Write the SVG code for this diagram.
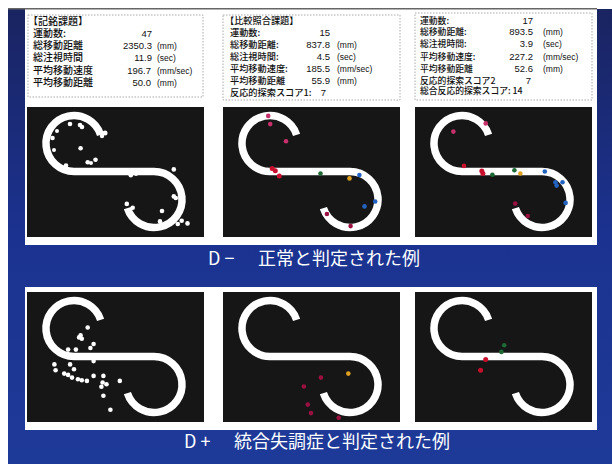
<svg xmlns="http://www.w3.org/2000/svg" width="612" height="464" viewBox="0 0 612 464">
<style>
.lbl{font-family:"Noto Sans CJK JP","Noto Sans",sans-serif;fill:#111;font-weight:500;}
.b1{font-size:10px;}
.b2{font-size:9.2px;}
.b3{font-size:8.8px;}
.num{font-family:"Liberation Sans",Arial,sans-serif;font-size:9.5px;fill:#111;text-anchor:end;}
.unit{font-family:"Liberation Sans",Arial,sans-serif;font-size:8.5px;fill:#111;}
.box{fill:none;stroke:#aaa;stroke-width:1;stroke-dasharray:1.5 1.5;}
.panel{fill:#151615;}
.frame{fill:#fff;}
.s{fill:none;stroke:#fff;stroke-width:7.5;}
.cap{font-family:"Noto Sans CJK JP","Noto Sans",sans-serif;font-size:18px;fill:#fff;}
.w{fill:#fff;}
.pk{fill:#c8306c;}
.rd{fill:#c8102e;}
.gn{fill:#1d6a34;}
.or{fill:#e0a020;}
.bl{fill:#2462c0;}
.mr{fill:#9a1040;}
</style>
<defs>
<linearGradient id="bg" x1="0" y1="0" x2="0" y2="1">
<stop offset="0" stop-color="#1a2461"/>
<stop offset="0.5" stop-color="#1b3290"/>
<stop offset="1" stop-color="#1e3a98"/>
</linearGradient>
<path id="S" class="s" d="M73.6,27.8 A28,28 0 1 0 47,64.5 H127 A28,28 0 1 1 100.4,101.2"/>
</defs>

<g id="background">
<rect x="0" y="0" width="612" height="464" fill="#fff"/>
<rect x="8" y="9" width="604" height="455" fill="url(#bg)"/>
<rect class="frame" x="25" y="9" width="572" height="236"/>
<rect x="8" y="8" width="589" height="1.5" fill="#666"/>
<rect class="frame" x="25" y="287" width="572" height="143"/>
</g>

<g id="box1">
<rect class="box" x="28" y="15" width="175" height="82"/>
<text class="lbl b1" x="28" y="25">【記銘課題】</text>
<text class="lbl b1" x="33" y="37">運動数:</text><text class="num" x="152" y="37">47</text>
<text class="lbl b1" x="33" y="49">総移動距離</text><text class="num" x="152" y="49">2350.3</text><text class="unit" x="157" y="49">(mm)</text>
<text class="lbl b1" x="33" y="61">総注視時間</text><text class="num" x="152" y="61">11.9</text><text class="unit" x="157" y="61">(sec)</text>
<text class="lbl b1" x="33" y="73.5">平均移動速度</text><text class="num" x="151" y="73.5">196.7</text><text class="unit" x="157" y="73.5">(mm/sec)</text>
<text class="lbl b1" x="33" y="85.5">平均移動距離</text><text class="num" x="151" y="85.5">50.0</text><text class="unit" x="157" y="85.5">(mm)</text>
</g>

<g id="box2">
<rect class="box" x="223" y="15" width="177" height="85"/>
<text class="lbl b2" x="225" y="24">【比較照合課題】</text>
<text class="lbl b2" x="230" y="35.5">運動数:</text><text class="num" x="330" y="35.5">15</text>
<text class="lbl b2" x="230" y="47.5">総移動距離:</text><text class="num" x="330" y="47.5">837.8</text><text class="unit" x="337" y="47.5">(mm)</text>
<text class="lbl b2" x="230" y="59.5">総注視時間:</text><text class="num" x="330" y="59.5">4.5</text><text class="unit" x="337" y="59.5">(sec)</text>
<text class="lbl b2" x="230" y="71.5">平均移動速度:</text><text class="num" x="330" y="71.5">185.5</text><text class="unit" x="337" y="71.5">(mm/sec)</text>
<text class="lbl b2" x="230" y="83.5">平均移動距離</text><text class="num" x="330" y="83.5">55.9</text><text class="unit" x="337" y="83.5">(mm)</text>
<text class="lbl b2" x="230" y="95.5">反応的探索スコア1:</text><text class="num" x="326" y="95.5">7</text>
</g>

<g id="box3">
<rect class="box" x="415" y="13" width="177" height="87"/>
<text class="lbl b3" x="420" y="23.5">運動数:</text><text class="num" x="533" y="23.5">17</text>
<text class="lbl b3" x="420" y="35">総移動距離:</text><text class="num" x="533" y="35">893.5</text><text class="unit" x="543" y="35">(mm)</text>
<text class="lbl b3" x="420" y="47">総注視時間:</text><text class="num" x="533" y="47">3.9</text><text class="unit" x="543" y="47">(sec)</text>
<text class="lbl b3" x="420" y="59.5">平均移動速度:</text><text class="num" x="533" y="59.5">227.2</text><text class="unit" x="543" y="59.5">(mm/sec)</text>
<text class="lbl b3" x="420" y="72">平均移動距離</text><text class="num" x="533" y="72">52.6</text><text class="unit" x="543" y="72">(mm)</text>
<text class="lbl b3" x="420" y="83.5">反応的探索スコア2</text><text class="num" x="531" y="83.5">7</text>
<text class="lbl b3" x="420" y="94">総合反応的探索スコア: 14</text>
</g>

<g id="panel-r1-1">
<rect class="panel" x="27" y="107" width="177" height="130"/>
<use href="#S" transform="translate(27,107)"/>
<g class="w">
<circle cx="70" cy="124" r="2.3"/><circle cx="80" cy="125" r="2.3"/><circle cx="82" cy="127" r="2.3"/>
<circle cx="52.5" cy="138" r="2.3"/><circle cx="57" cy="131" r="2"/><circle cx="54" cy="150" r="2"/>
<circle cx="80.6" cy="148.3" r="2.3"/><circle cx="87.7" cy="162.3" r="2.3"/><circle cx="95.5" cy="159.7" r="2.3"/>
<circle cx="91" cy="163" r="2"/><circle cx="105" cy="133" r="2.5"/><circle cx="102" cy="136" r="2.2"/>
<circle cx="66" cy="165.5" r="2.3"/><circle cx="130.8" cy="175.3" r="2.3"/><circle cx="136" cy="174" r="2"/>
<circle cx="173.8" cy="169.4" r="2.3"/><circle cx="126.8" cy="203.9" r="2.3"/><circle cx="132.7" cy="207.8" r="2.3"/>
<circle cx="162" cy="211" r="2.3"/><circle cx="173.8" cy="196.4" r="2.3"/><circle cx="175.8" cy="198" r="2.3"/>
<circle cx="160" cy="221.4" r="2.3"/><circle cx="181.7" cy="220.8" r="2.3"/><circle cx="187.5" cy="223.4" r="2.3"/>
<circle cx="177.8" cy="224" r="2.3"/><circle cx="150" cy="228" r="2"/>
</g>
</g>

<g id="panel-r1-2">
<rect class="panel" x="223" y="107" width="177" height="130"/>
<use href="#S" transform="translate(223,107)"/>
<circle class="pk" cx="268.2" cy="115.9" r="2.3"/><circle class="pk" cx="270.2" cy="124.1" r="2.3"/><circle class="pk" cx="286" cy="141.2" r="2.3"/>
<circle class="rd" cx="272.2" cy="168.5" r="2.5"/><circle class="rd" cx="275.3" cy="170.8" r="2.5"/><circle class="rd" cx="279.3" cy="176.1" r="2.5"/>
<circle class="gn" cx="320.5" cy="173.5" r="2.3"/><circle class="or" cx="349.5" cy="178.4" r="2.3"/>
<circle class="bl" cx="359.4" cy="175.1" r="2.3"/><circle class="bl" cx="375.2" cy="201.5" r="2.3"/><circle class="bl" cx="364.5" cy="206.4" r="2.3"/>
<circle class="mr" cx="326.9" cy="214" r="2.3"/><circle class="mr" cx="350.6" cy="226.1" r="2.3"/>
</g>

<g id="panel-r1-3">
<rect class="panel" x="415" y="107" width="177" height="130"/>
<use href="#S" transform="translate(415,107)"/>
<circle class="pk" cx="485.7" cy="123.4" r="2.3"/><circle class="pk" cx="453.4" cy="131.6" r="2.3"/>
<circle class="rd" cx="464" cy="165.9" r="2.3"/><circle class="rd" cx="481.8" cy="170.9" r="2.5"/><circle class="rd" cx="482.9" cy="173.5" r="2.5"/>
<circle class="gn" cx="492.4" cy="174.8" r="2.3"/><circle class="gn" cx="514.4" cy="170.2" r="2.3"/><circle class="or" cx="520.3" cy="173.5" r="2.3"/>
<circle class="bl" cx="544.8" cy="171.5" r="2.3"/><circle class="bl" cx="555.4" cy="182.3" r="2.3"/><circle class="bl" cx="562.5" cy="182.3" r="2.3"/>
<circle class="bl" cx="556.6" cy="185.6" r="2.3"/><circle class="bl" cx="565.6" cy="202.9" r="2.3"/>
<circle class="mr" cx="515.2" cy="203.6" r="2.3"/><circle class="mr" cx="527.8" cy="216" r="2.3"/>
</g>

<g id="caption-1">
<text class="cap" x="208" y="265">D −<tspan x="258">正常と判定された例</tspan></text>
</g>

<g id="panel-r2-1">
<rect class="panel" x="27" y="292" width="177" height="130"/>
<use href="#S" transform="translate(27,292)"/>
<g class="w">
<circle cx="87.7" cy="327.5" r="2.3"/><circle cx="79.1" cy="337.4" r="2.3"/><circle cx="81.8" cy="338.7" r="2.3"/>
<circle cx="80.6" cy="335.4" r="2.3"/><circle cx="93.6" cy="344" r="2.3"/><circle cx="90.4" cy="348" r="2.3"/>
<circle cx="68.1" cy="349.6" r="2.3"/><circle cx="75.9" cy="349.6" r="2.3"/><circle cx="93.6" cy="361.1" r="2.3"/>
<circle cx="54.4" cy="364.4" r="2.3"/><circle cx="70.1" cy="364.4" r="2.3"/><circle cx="55.6" cy="370.3" r="2.3"/>
<circle cx="74" cy="369.3" r="2.3"/><circle cx="64.2" cy="373.6" r="2.3"/><circle cx="68.1" cy="374.9" r="2.3"/>
<circle cx="72" cy="377.6" r="2.3"/><circle cx="77.9" cy="379.2" r="2.3"/><circle cx="81.8" cy="380.2" r="2.3"/>
<circle cx="86.9" cy="380.9" r="2.3"/><circle cx="93.6" cy="375.9" r="2.3"/><circle cx="103.4" cy="375.9" r="2.3"/>
<circle cx="102.6" cy="382.5" r="2.3"/><circle cx="106.5" cy="384.2" r="2.3"/><circle cx="101.4" cy="386.8" r="2.3"/>
<circle cx="119.8" cy="380.9" r="2.3"/><circle cx="103.4" cy="395.7" r="2.3"/><circle cx="110.4" cy="409.8" r="2.3"/>
</g>
</g>

<g id="panel-r2-2">
<rect class="panel" x="223" y="292" width="177" height="130"/>
<use href="#S" transform="translate(223,292)"/>
<circle class="or" cx="348.3" cy="373.6" r="2.3"/>
<circle class="mr" cx="320.9" cy="377.6" r="2.3"/><circle class="mr" cx="303.9" cy="386.5" r="2.3"/>
<circle class="mr" cx="307.8" cy="404.6" r="2.3"/><circle class="mr" cx="311" cy="413.1" r="2.3"/><circle class="mr" cx="338.7" cy="417.7" r="2.3"/>
</g>

<g id="panel-r2-3">
<rect class="panel" x="415" y="292" width="177" height="130"/>
<use href="#S" transform="translate(415,292)"/>
<circle class="gn" cx="504.2" cy="345.3" r="2.3"/><circle class="gn" cx="501.4" cy="351.9" r="2.3"/>
<circle class="rd" cx="485.7" cy="359.5" r="2.5"/><circle class="rd" cx="480.6" cy="370.3" r="2.5"/>
</g>

<g id="caption-2">
<text class="cap" x="184" y="448">D +<tspan x="234">統合失調症と判定された例</tspan></text>
</g>
</svg>
